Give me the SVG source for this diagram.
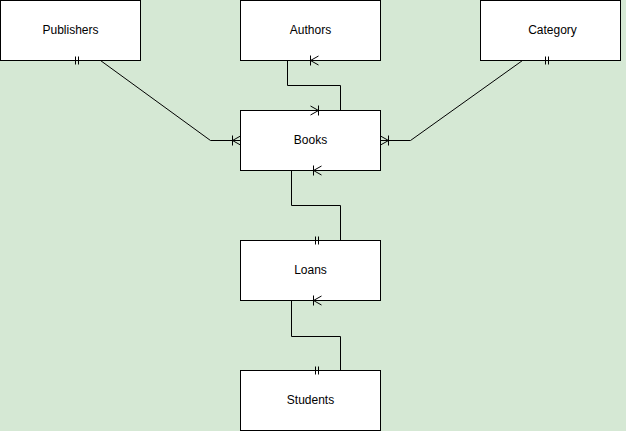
<svg xmlns="http://www.w3.org/2000/svg" xmlns:xlink="http://www.w3.org/1999/xlink" width="626" height="431" viewBox="0 0 626 431">
  <style>
    .entity rect { fill: #ffffff; stroke: #000000; stroke-width: 1; }
    .entity text { font-family: "Liberation Sans", Arial, Helvetica, sans-serif; font-size: 12px; fill: #000000; text-anchor: middle; }
    .conn { fill: none; stroke: #000000; stroke-width: 1; }
  </style>
  <defs>
    <g id="many"><path class="conn" d="M-8,-5V5M-8,0L0,-4.5M-8,0L0,4.5"/></g>
    <g id="one"><path class="conn" d="M5,-4V4M8,-4V4"/></g>
  </defs>
  <rect x="0" y="0" width="626" height="431" fill="#d5e8d4"/>
  <g transform="translate(0.5,0.5)">
    <g id="publishers" class="entity"><rect x="0" y="0" width="140" height="60"/><text x="70" y="33">Publishers</text></g>
    <g id="authors" class="entity"><rect x="240" y="0" width="140" height="60"/><text x="310" y="33">Authors</text></g>
    <g id="category" class="entity"><rect x="480" y="0" width="140" height="60"/><text x="552" y="33">Category</text></g>
    <g id="books" class="entity"><rect x="240" y="110" width="140" height="60"/><text x="310" y="143">Books</text></g>
    <g id="loans" class="entity"><rect x="240" y="240" width="140" height="60"/><text x="310" y="273">Loans</text></g>
    <g id="students" class="entity"><rect x="240" y="370" width="140" height="60"/><text x="310" y="403">Students</text></g>
    <g id="connectors">
      <path class="conn" d="M70,60H100L210,140H240"/>
      <path class="conn" d="M540,60H522L410,140H380"/>
      <path class="conn" d="M310,110H340V85H287V60H318"/>
      <path class="conn" d="M310,240H340V205H291V170H321"/>
      <path class="conn" d="M310,370H340V336H291V300H321"/>
      <use xlink:href="#one" transform="translate(70,60)"/>
      <use xlink:href="#many" transform="translate(240,140)"/>
      <use xlink:href="#one" transform="translate(540,60)"/>
      <use xlink:href="#many" transform="translate(380,140) rotate(180)"/>
      <use xlink:href="#many" transform="translate(318,60)"/>
      <use xlink:href="#many" transform="translate(310,110) rotate(180)"/>
      <use xlink:href="#one" transform="translate(310,240)"/>
      <use xlink:href="#many" transform="translate(321,170)"/>
      <use xlink:href="#one" transform="translate(310,370)"/>
      <use xlink:href="#many" transform="translate(321,300)"/>
    </g>
  </g>
</svg>
